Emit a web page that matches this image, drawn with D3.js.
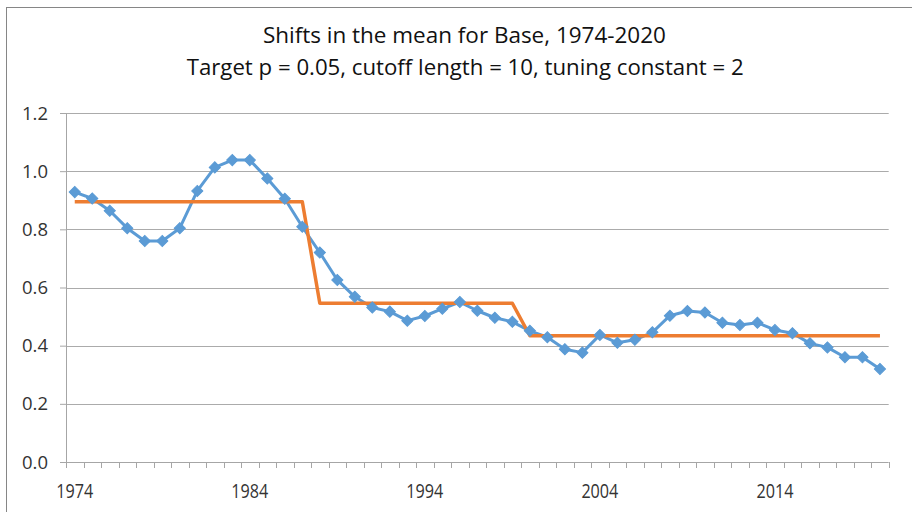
<!DOCTYPE html>
<html>
<head>
<meta charset="utf-8">
<script src="https://cdn.jsdelivr.net/npm/d3@7"></script>
<style>
  body { margin: 0; background: #fff; }
  svg { display: block; }
  text { font-family: 'Open Sans', 'Noto Sans', sans-serif; fill: #333; }
</style>
</head>
<body>
<div id="chart"></div>
<script>

// data
const years = d3.range(1974, 2021);
const base = [
  0.928, 0.906, 0.864, 0.804, 0.760, 0.760, 0.804, 0.932, 1.013, 1.038,
  1.038, 0.975, 0.905, 0.809, 0.720, 0.626, 0.568, 0.531, 0.517, 0.486,
  0.502, 0.527, 0.550, 0.520, 0.496, 0.482, 0.451, 0.429, 0.388, 0.376,
  0.437, 0.410, 0.420, 0.446, 0.503, 0.519, 0.514, 0.479, 0.471, 0.479,
  0.454, 0.443, 0.408, 0.394, 0.360, 0.360, 0.320
];
const segStart = [1974, 1988, 2000];
const segEnd = [1987, 1999, 2020];
const segMean = [0.895, 0.546, 0.434];
const yTicks = [0, 0.2, 0.4, 0.6, 0.8, 1.0, 1.2];
const xLabels = [1974, 1984, 1994, 2004, 2014];
const titleLines = [
  'Shifts in the mean for Base, 1974-2020',
  'Target p = 0.05, cutoff length = 10, tuning constant = 2'
];

const width = 912;
const height = 512;

const svg = d3.select('#chart')
  .append('svg')
  .attr('width', width)
  .attr('height', height);

// chart border (runs off the right and bottom of the picture)
svg.append('rect')
  .attr('x', 6.5)
  .attr('y', 7.5)
  .attr('width', 920)
  .attr('height', 520)
  .attr('fill', 'white')
  .attr('stroke', '#868686')
  .attr('stroke-width', 1);

const x = d3.scaleBand()
  .domain(years)
  .range([66, 888.7])
  .padding(0);

const y = d3.scaleLinear()
  .domain([0, 1.2])
  .range([462, 113]);

const cx = d => x(d) + x.bandwidth() / 2;

// title
svg.selectAll('.title')
  .data(titleLines)
  .enter()
  .append('text')
  .attr('class', 'title')
  .attr('x', (_, i) => i === 0 ? 464.4 : 465.2)
  .attr('y', (_, i) => i === 0 ? 42.5 : 74.5)
  .attr('text-anchor', 'middle')
  .attr('font-size', '22px')
  .attr('textLength', (_, i) => i === 0 ? 403 : 557)
  .attr('lengthAdjust', 'spacingAndGlyphs')
  .style('fill', '#111')
  .text(d => d);

// gridlines
svg.append('g')
  .selectAll('line')
  .data(yTicks.filter(d => d > 0))
  .enter()
  .append('line')
  .attr('x1', x.range()[0])
  .attr('x2', x.range()[1])
  .attr('y1', d => Math.round(y(d)) + 0.5)
  .attr('y2', d => Math.round(y(d)) + 0.5)
  .attr('stroke', '#ababab')
  .attr('stroke-width', 1);

// y axis
const yAxis = svg.append('g')
  .attr('transform', `translate(${x.range()[0]},0)`)
  .call(d3.axisLeft(y).tickValues(yTicks).tickFormat(d3.format('.1f')).tickSize(6).tickPadding(12));
yAxis.select('.domain').attr('stroke', '#a6a6a6');
yAxis.selectAll('.tick line').attr('stroke', '#a6a6a6');
yAxis.selectAll('.tick text')
  .attr('font-size', '19px')
  .attr('font-family', null)
  .attr('fill', null)
  .attr('textLength', 26)
  .attr('lengthAdjust', 'spacingAndGlyphs');

// x axis (Excel style: ticks between categories)
const xAxis = svg.append('g');
xAxis.append('line')
  .attr('x1', x.range()[0])
  .attr('x2', x.range()[1])
  .attr('y1', y(0) + 0.5)
  .attr('y2', y(0) + 0.5)
  .attr('stroke', '#a6a6a6');
xAxis.selectAll('.xtick')
  .data(years.map(d => x(d)).concat([x.range()[1]]))
  .enter()
  .append('line')
  .attr('class', 'xtick')
  .attr('x1', d => Math.round(d) + 0.5)
  .attr('x2', d => Math.round(d) + 0.5)
  .attr('y1', y(0))
  .attr('y2', y(0) + 6)
  .attr('stroke', '#a6a6a6');
xAxis.selectAll('.xlabel')
  .data(xLabels)
  .enter()
  .append('text')
  .attr('class', 'xlabel')
  .attr('x', d => cx(d))
  .attr('y', 497.5)
  .attr('text-anchor', 'middle')
  .attr('font-size', '20px')
  .attr('textLength', 37)
  .attr('lengthAdjust', 'spacingAndGlyphs')
  .text(d => d);

// base series
const line = d3.line()
  .x((d, i) => cx(years[i]))
  .y(d => y(d));

svg.append('path')
  .datum(base)
  .attr('fill', 'none')
  .attr('stroke', '#5b9bd5')
  .attr('stroke-width', 3)
  .attr('stroke-linejoin', 'round')
  .attr('d', line);

// step line of segment means
const stepPts = [];
segStart.forEach((s, i) => {
  stepPts.push([s, segMean[i]]);
  stepPts.push([segEnd[i], segMean[i]]);
});

svg.append('path')
  .datum(stepPts)
  .attr('fill', 'none')
  .attr('stroke', '#ed7d31')
  .attr('stroke-width', 3.5)
  .attr('stroke-linejoin', 'round')
  .attr('d', d3.line().x(d => cx(d[0])).y(d => y(d[1])));

// diamond markers
const diamond = d3.symbol().type(d3.symbolSquare).size(62);
svg.append('g')
  .selectAll('path')
  .data(base)
  .enter()
  .append('path')
  .attr('d', diamond)
  .attr('fill', '#5b9bd5')
  .attr('stroke', '#5b9bd5')
  .attr('stroke-width', 1)
  .attr('transform', (d, i) => `translate(${cx(years[i])},${y(d)}) rotate(45)`);

</script>
</body>
</html>
